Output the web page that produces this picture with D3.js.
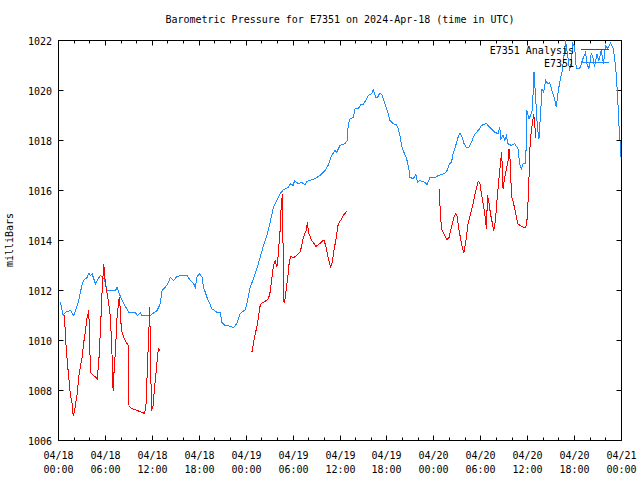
<!DOCTYPE html>
<html>
<head>
<meta charset="utf-8">
<script src="https://cdn.jsdelivr.net/npm/d3@7"></script>
<style>
  body { margin: 0; background: #fff; }
  svg { display: block; }
  text { font-family: "DejaVu Sans Mono", "Liberation Mono", monospace; font-size: 10px; fill: #000; }
</style>
</head>
<body>
<svg id="chart" width="640" height="480"></svg>
<script>
// ---- Data (hours since 2024-04-18 00:00 UTC) ----
const chartTitle = "Barometric Pressure for E7351 on 2024-Apr-18 (time in UTC)";
const yLabel = "milliBars";
const seriesNames = ["E7351 Analysis", "E7351"];

const yTicks = [1006, 1008, 1010, 1012, 1014, 1016, 1018, 1020, 1022];
const xTickHours = [0, 6, 12, 18, 24, 30, 36, 42, 48, 54, 60, 66, 72];
const xTickDates = ["04/18","04/18","04/18","04/18","04/19","04/19","04/19","04/19","04/20","04/20","04/20","04/20","04/21"];
const xTickTimes = ["00:00","06:00","12:00","18:00","00:00","06:00","12:00","18:00","00:00","06:00","12:00","18:00","00:00"];
const xMinorHours = [2,4,8,10,14,16,20,22,26,28,32,34,38,40,44,46,50,52,56,58,62,64,68,70];

// Analysis (blue)
const analysisHours = [0.26,0.6,0.89,1.53,1.95,2.17,2.59,3.03,3.23,3.66,3.87,4.09,4.3,4.72,4.94,5.36,5.78,6.0,6.22,7.28,7.49,7.7,8.13,8.97,9.83,10.05,10.47,10.69,11.74,12.6,13.02,13.24,13.66,14.08,14.3,14.72,15.15,15.79,16.43,16.85,17.27,17.49,17.71,18.0,18.35,18.55,18.98,19.62,20.26,20.68,20.9,21.32,21.96,22.38,22.81,23.23,23.87,24.09,24.51,24.93,25.37,25.79,26.21,26.64,27.06,27.49,27.92,28.34,28.76,29.4,29.62,30.04,30.17,30.68,31.11,31.53,31.75,32.17,32.81,33.45,34.09,34.47,34.94,35.36,35.58,36.0,36.64,36.93,37.06,37.28,37.7,37.92,38.34,38.64,38.98,39.41,39.61,40.05,40.25,40.56,40.81,41.11,41.4,41.75,42.17,42.38,42.81,43.24,43.44,43.66,43.88,44.08,44.52,44.81,44.94,45.36,45.7,45.92,46.21,46.85,47.14,47.49,48.13,48.55,48.98,49.4,49.7,49.95,50.26,50.46,50.68,51.1,51.32,51.54,51.87,52.17,52.47,52.81,53.15,53.58,53.87,54.09,54.73,54.93,55.36,55.79,56.21,56.43,56.56,56.85,57.07,57.28,57.49,57.92,58.34,58.76,58.98,59.2,59.4,59.75,59.91,60.17,60.35,60.6,60.81,61.02,61.24,61.44,61.62,61.83,62.04,62.3,62.59,62.81,63.15,63.45,63.66,63.87,64.09,64.43,64.72,64.85,65.15,65.36,65.58,65.78,66.0,66.22,66.64,66.86,67.06,67.41,67.57,67.83,68.13,68.34,68.55,68.85,69.1,69.41,69.7,69.96,70.25,70.6,70.89,71.11,71.32,71.53,71.66,71.84,71.9];
const analysisValues = [1011.53,1011.0,1011.13,1011.2,1011.0,1011.2,1011.6,1012.27,1012.4,1012.53,1012.69,1012.6,1012.67,1012.27,1012.4,1012.6,1012.48,1012.28,1012.0,1012.0,1012.12,1011.93,1011.6,1011.13,1011.13,1011.0,1011.1,1011.0,1011.0,1011.2,1011.47,1012.0,1012.13,1012.33,1012.52,1012.4,1012.56,1012.6,1012.6,1012.4,1012.28,1012.13,1012.53,1012.69,1012.53,1012.13,1011.73,1011.27,1011.13,1011.11,1010.73,1010.6,1010.57,1010.51,1010.69,1011.07,1011.23,1011.47,1012.13,1012.47,1012.87,1013.33,1013.8,1014.2,1014.73,1015.33,1015.6,1015.87,1016.03,1016.13,1016.27,1016.2,1016.4,1016.27,1016.32,1016.24,1016.36,1016.4,1016.48,1016.6,1016.8,1017.0,1017.4,1017.6,1017.53,1017.8,1017.87,1018.0,1018.67,1018.87,1018.93,1019.27,1019.27,1019.44,1019.44,1019.67,1019.8,1019.87,1020.03,1019.73,1019.73,1019.91,1019.8,1019.47,1019.07,1018.8,1018.67,1018.63,1018.47,1018.2,1017.8,1017.6,1017.27,1016.87,1016.53,1016.47,1016.63,1016.33,1016.4,1016.33,1016.24,1016.51,1016.51,1016.6,1016.64,1016.69,1016.8,1017.04,1017.13,1017.47,1017.67,1018.13,1018.29,1018.2,1017.87,1017.71,1017.73,1017.93,1018.2,1018.37,1018.47,1018.6,1018.69,1018.6,1018.47,1018.33,1018.27,1018.53,1018.07,1018.2,1018.0,1018.2,1017.87,1017.8,1017.87,1017.67,1017.07,1016.87,1017.07,1017.07,1019.2,1018.87,1019.0,1019.2,1020.73,1019.73,1018.53,1018.07,1018.93,1020.07,1019.93,1020.4,1020.27,1020.33,1019.93,1019.67,1019.33,1019.87,1020.33,1020.8,1021.6,1022.0,1021.33,1020.8,1021.13,1021.87,1021.76,1020.87,1020.87,1021.07,1021.27,1021.53,1021.07,1020.87,1021.47,1021.33,1020.93,1021.47,1021.2,1021.6,1021.07,1021.8,1021.67,1021.89,1021.73,1021.33,1020.67,1019.6,1018.67,1017.87,1017.33];

// Observed (red), null = gap
const observedHours = [0.77,0.89,1.11,1.31,1.53,1.75,1.88,2.04,2.17,2.39,2.59,2.81,3.03,3.23,3.45,3.66,3.79,3.87,4.09,4.51,4.94,5.14,5.36,5.58,5.71,5.78,6.0,6.22,6.42,6.64,6.86,6.98,7.06,7.28,7.49,7.7,7.79,7.91,8.04,8.34,8.55,8.9,8.97,9.02,9.41,10.05,10.69,11.02,11.2,11.4,11.53,11.66,11.83,11.91,12.09,12.29,12.51,12.68,12.8,12.93,
  18.0,
  24.73,24.93,25.15,25.37,25.57,25.79,26.0,26.43,26.85,27.06,27.28,27.49,27.7,27.92,28.02,28.17,28.34,28.47,28.63,28.72,28.76,28.89,29.11,29.32,29.53,29.71,30.04,30.47,30.89,31.11,31.32,31.66,31.83,31.96,32.39,32.94,33.45,33.96,34.21,34.51,34.81,35.02,35.23,35.49,35.78,36.22,36.51,36.86,
  42.0,
  48.68,48.86,48.99,49.4,49.7,49.95,50.26,50.55,50.81,50.98,51.23,51.54,51.83,52.05,52.38,52.81,53.02,53.23,53.53,53.66,53.87,54.09,54.3,54.51,54.73,54.86,55.02,55.24,55.5,55.66,55.88,56.08,56.3,56.56,56.68,56.85,57.07,57.28,57.49,57.62,57.8,57.92,58.21,58.56,58.76,59.2,59.75,59.91,60.13,60.26,60.47,60.6,60.77,60.89,61.02];
const observedValues = [1011.0,1010.13,1009.2,1008.53,1007.8,1007.47,1007.0,1007.13,1007.47,1007.87,1008.53,1009.0,1009.33,1009.93,1010.4,1010.93,1011.07,1011.23,1008.73,1008.6,1008.47,1009.07,1010.4,1012.0,1012.67,1013.07,1012.27,1011.87,1011.47,1010.93,1009.33,1008.0,1008.53,1009.6,1010.93,1011.6,1011.72,1011.2,1010.4,1010.13,1010.0,1009.8,1008.53,1007.36,1007.27,1007.2,1007.13,1007.07,1007.47,1009.2,1010.13,1011.33,1008.27,1007.2,1007.4,1008.13,1008.8,1009.47,1009.67,1009.6,
  null,
  1009.53,1009.87,1010.27,1010.53,1010.93,1011.4,1011.49,1011.57,1011.67,1011.93,1012.47,1013.0,1013.2,1012.93,1013.12,1013.73,1014.4,1015.33,1015.87,1013.73,1011.6,1011.49,1012.0,1012.53,1013.2,1013.36,1013.31,1013.4,1013.53,1013.8,1014.13,1014.4,1014.73,1014.33,1014.0,1013.76,1013.89,1014.03,1013.73,1013.27,1012.93,1013.13,1013.6,1014.07,1014.67,1014.87,1015.04,1015.16,
  null,
  1016.07,1014.93,1014.47,1014.2,1014.03,1014.13,1014.53,1014.93,1015.07,1014.96,1014.4,1013.87,1013.49,1013.87,1014.67,1015.2,1015.47,1015.8,1016.2,1016.36,1016.33,1015.87,1015.47,1015.07,1014.47,1015.8,1015.6,1015.07,1014.67,1014.4,1014.8,1015.6,1016.4,1017.2,1017.53,1016.07,1016.53,1016.87,1017.2,1017.67,1017.07,1015.8,1015.47,1014.93,1014.67,1014.56,1014.51,1014.8,1016.0,1017.6,1018.4,1018.67,1019.07,1018.73,1018.08];

// ---- Drawing ----
const svg = d3.select("#chart");
const L = 58.5, R = 621.5, T = 40.5, B = 440.5;
const x = d3.scaleLinear().domain([0, 72]).range([L, R]);
const y = d3.scaleLinear().domain([1006, 1022]).range([B, T]);

const blueColor = "#1a8cff", redColor = "#ff0000";

// title
svg.append("text").attr("x", 340).attr("y", 23).attr("text-anchor", "middle").text(chartTitle);

// y label
svg.append("text").attr("transform", "translate(13,240) rotate(-90)")
  .attr("text-anchor", "middle").text(yLabel);

// y ticks and labels
const g = svg.append("g");
yTicks.forEach(v => {
  const yy = Math.round(y(v) - 0.5) + 0.5;
  g.append("line").attr("x1", L).attr("x2", L + 5).attr("y1", yy).attr("y2", yy).attr("stroke", "#000");
  g.append("line").attr("x1", R - 5).attr("x2", R).attr("y1", yy).attr("y2", yy).attr("stroke", "#000");
  g.append("text").attr("x", 52).attr("y", yy + 4).attr("text-anchor", "end").text(v);
});

// x ticks
xTickHours.forEach((h, i) => {
  const xx = Math.round(x(h) - 0.5) + 0.5;
  g.append("line").attr("x1", xx).attr("x2", xx).attr("y1", B).attr("y2", B - 5).attr("stroke", "#000");
  g.append("line").attr("x1", xx).attr("x2", xx).attr("y1", T).attr("y2", T + 5).attr("stroke", "#000");
  g.append("text").attr("x", xx).attr("y", 459).attr("text-anchor", "middle").text(xTickDates[i]);
  g.append("text").attr("x", xx).attr("y", 473).attr("text-anchor", "middle").text(xTickTimes[i]);
});
xMinorHours.forEach(h => {
  const xx = Math.round(x(h) - 0.5) + 0.5;
  g.append("line").attr("x1", xx).attr("x2", xx).attr("y1", B).attr("y2", B - 3).attr("stroke", "#000");
  g.append("line").attr("x1", xx).attr("x2", xx).attr("y1", T).attr("y2", T + 3).attr("stroke", "#000");
});

// border
svg.append("rect").attr("x", L).attr("y", T).attr("width", R - L).attr("height", B - T)
  .attr("fill", "none").attr("stroke", "#000");

// series lines
const analysisData = analysisHours.map((h, i) => ({h, v: analysisValues[i]}));
const observedData = observedHours.map((h, i) => ({h, v: observedValues[i]}));
const line = d3.line().defined(d => d.v !== null).x(d => x(d.h)).y(d => y(d.v));

svg.append("path").datum(analysisData).attr("d", line)
  .attr("fill", "none").attr("stroke", blueColor).attr("stroke-width", 1)
  .attr("shape-rendering", "crispEdges");
svg.append("path").datum(observedData).attr("d", line)
  .attr("fill", "none").attr("stroke", redColor).attr("stroke-width", 1)
  .attr("shape-rendering", "crispEdges");

// legend
const legend = svg.append("g");
legend.append("text").attr("x", 574).attr("y", 54).attr("text-anchor", "end").text(seriesNames[0]);
legend.append("line").attr("x1", 581).attr("x2", 609).attr("y1", 49.5).attr("y2", 49.5).attr("stroke", redColor);
legend.append("text").attr("x", 574).attr("y", 67).attr("text-anchor", "end").text(seriesNames[1]);
legend.append("line").attr("x1", 581).attr("x2", 609).attr("y1", 62.5).attr("y2", 62.5).attr("stroke", blueColor);
</script>
</body>
</html>
